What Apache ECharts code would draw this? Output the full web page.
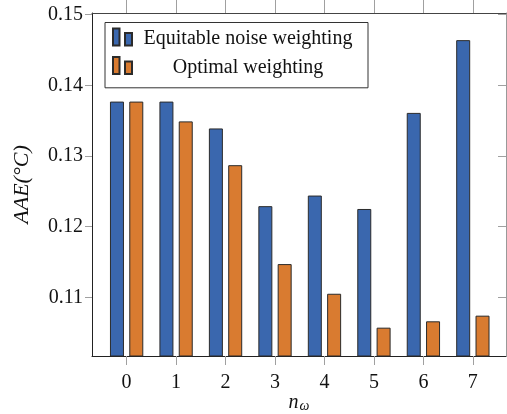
<!DOCTYPE html>
<html>
<head>
<meta charset="utf-8">
<script src="https://cdn.jsdelivr.net/npm/echarts@6/dist/echarts.min.js"></script>
<style>
html,body{margin:0;padding:0;background:#fff;}
#c{width:507px;height:414px;}
</style>
</head>
<body>
<div id="c"></div>
<script>
const categories = [0, 1, 2, 3, 4, 5, 6, 7];
const equitable = [0.1377, 0.1377, 0.1339, 0.1229, 0.1244, 0.1225, 0.1361, 0.1464];
const optimal = [0.1377, 0.1349, 0.1287, 0.1147, 0.1105, 0.1057, 0.1066, 0.1074];
const yTicks = [0.11, 0.12, 0.13, 0.14, 0.15];
const seriesNames = ['Equitable noise weighting', 'Optimal weighting'];

const FONT = 'Liberation Serif';
const BLUE = '#3a67ae';
const ORANGE = '#d97b30';
const EDGE = '#2b2b2b';
const TICK = '#a0a0a0';
const ICON = 'path://M0,0h6.5v17h-6.5z M12,4.4h7v12.6h-7z';

const chart = echarts.init(document.getElementById('c'), null, {renderer: 'canvas'});
chart.setOption({
  animation: false,
  backgroundColor: '#fff',
  grid: {left: 92, top: 13, right: 1, bottom: 58, containLabel: false, outerBoundsMode: 'none'},
  legend: {
    left: 105, top: 22.5,
    orient: 'vertical',
    padding: [2.6, 9, 10.3, 7],
    itemGap: 4.4,
    itemWidth: 19, itemHeight: 17,
    borderColor: '#333', borderWidth: 1, borderRadius: 0,
    backgroundColor: '#fff',
    data: [
      {name: seriesNames[0], icon: ICON},
      {name: seriesNames[1], icon: ICON}
    ],
    formatter: n => '{t|' + n + '}',
    textStyle: {
      rich: {
        t: {fontFamily: FONT, fontSize: 20, color: '#111', width: 222, align: 'center', lineHeight: 17, padding: [4, 0, 0, 0]}
      }
    }
  },
  xAxis: [
    {
      type: 'value', min: -0.7, max: 7.67,
      position: 'bottom',
      name: '{n|n}{w|ω}', nameLocation: 'middle', nameGap: 37, nameMoveOverlap: false,
      nameTextStyle: {
        rich: {
          n: {fontFamily: FONT, fontStyle: 'italic', fontSize: 20, lineHeight: 19, verticalAlign: 'top', color: '#111'},
          w: {fontFamily: FONT, fontStyle: 'italic', fontSize: 14, lineHeight: 14, verticalAlign: 'top', padding: [6, 0, 0, 1], color: '#111'}
        }
      },
      axisLine: {show: true, onZero: false, lineStyle: {color: '#222', width: 1}},
      axisTick: {show: true, inside: false, length: 9, customValues: categories, lineStyle: {color: TICK}},
      axisLabel: {show: true, customValues: categories, margin: 17, fontFamily: FONT, fontSize: 20, color: '#111'},
      splitLine: {show: false}
    },
    {
      type: 'value', min: -0.7, max: 7.67,
      position: 'top',
      axisLine: {show: true, onZero: false, lineStyle: {color: '#444', width: 1}},
      axisTick: {show: true, inside: false, length: 13, customValues: categories, lineStyle: {color: TICK}},
      axisLabel: {show: false},
      splitLine: {show: false}
    }
  ],
  yAxis: [
    {
      type: 'value', min: 0.10169, max: 0.15024,
      position: 'left',
      name: 'AAE(°C)', nameLocation: 'middle', nameGap: 59, nameMoveOverlap: false,
      nameTextStyle: {fontFamily: FONT, fontStyle: 'italic', fontSize: 22, color: '#111'},
      axisLine: {show: true, onZero: false, lineStyle: {color: '#222', width: 1}},
      axisTick: {show: true, inside: false, length: 7, customValues: yTicks, lineStyle: {color: TICK}},
      axisLabel: {show: true, customValues: yTicks, margin: 9, fontFamily: FONT, fontSize: 20, color: '#111',
        formatter: v => v.toFixed(2)},
      splitLine: {show: false}
    },
    {
      type: 'value', min: 0.10169, max: 0.15024,
      position: 'right',
      axisLine: {show: true, onZero: false, lineStyle: {color: '#999', width: 1}},
      axisTick: {show: true, inside: true, length: 8, customValues: yTicks, lineStyle: {color: TICK}},
      axisLabel: {show: false},
      splitLine: {show: false}
    }
  ],
  series: [
    {
      name: seriesNames[0], type: 'bar', xAxisIndex: 0, yAxisIndex: 0,
      barWidth: 14, barGap: '38%',
      itemStyle: {color: BLUE, borderColor: EDGE, borderWidth: 1},
      data: categories.map((c, i) => [c, equitable[i]])
    },
    {
      name: seriesNames[1], type: 'bar', xAxisIndex: 0, yAxisIndex: 0,
      barWidth: 14, barGap: '38%',
      itemStyle: {color: ORANGE, borderColor: EDGE, borderWidth: 1},
      data: categories.map((c, i) => [c, optimal[i]])
    }
  ]
});
</script>
</body>
</html>
